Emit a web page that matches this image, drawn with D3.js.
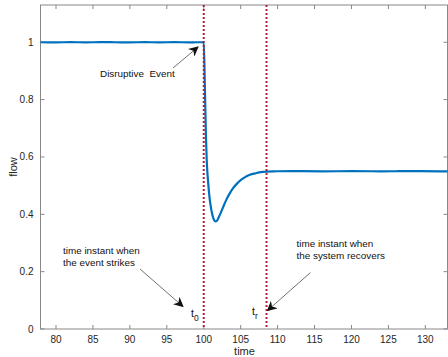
<!DOCTYPE html>
<html>
<head>
<meta charset="utf-8">
<script src="https://cdn.jsdelivr.net/npm/d3@7"></script>
<style>
  body { margin: 0; background: #fff; }
  text { font-family: "Liberation Sans", Arial, sans-serif; white-space: pre; }
</style>
</head>
<body>
<script>
// flow response around the disruptive event
var time = [70, 78, 80, 82, 84, 86, 88, 90, 92, 94, 96, 98, 99, 100,
  100.15, 100.3, 100.4, 100.6, 100.8, 101.0, 101.2, 101.4, 101.6, 101.8, 102.0,
  102.3, 102.7, 103.1, 103.5, 104.0, 104.5, 105, 105.5, 106, 106.5, 107, 107.5,
  108, 108.5, 109.5, 112, 116, 120, 124, 128, 132, 136];
var flow = [1.0, 1.0, 0.9995, 1.0005, 0.9995, 1.0005, 1.0, 0.9995, 1.0005, 0.9995, 1.0005, 0.9995, 1.0, 1.0,
  0.85, 0.67, 0.59, 0.51, 0.455, 0.42, 0.395, 0.38, 0.375, 0.378, 0.388,
  0.405, 0.43, 0.453, 0.472, 0.492, 0.507, 0.519, 0.528, 0.535, 0.54, 0.543, 0.546,
  0.548, 0.549, 0.55, 0.5505, 0.55, 0.5505, 0.55, 0.5505, 0.55, 0.55];

var xTicks = [80, 85, 90, 95, 100, 105, 110, 115, 120, 125, 130];
var yTicks = [0, 0.2, 0.4, 0.6, 0.8, 1];
var eventTimes = [100, 108.5];   // t0 and tr

var W = 448, H = 357;
var pLeft = 40.5, pRight = 447.5, pTop = 5, pBottom = 329;

var x = d3.scaleLinear().domain([77.9, 133]).range([pLeft, pRight]);
var y = d3.scaleLinear().domain([0, 1.13]).range([pBottom, pTop]);

var svg = d3.select("body").append("svg")
    .attr("width", W)
    .attr("height", H);

var defs = svg.append("defs");
defs.append("clipPath").attr("id", "clip")
  .append("rect")
    .attr("x", pLeft).attr("y", pTop)
    .attr("width", pRight - pLeft).attr("height", pBottom - pTop);
defs.append("marker")
    .attr("id", "head")
    .attr("viewBox", "0 0 10 10")
    .attr("refX", 9).attr("refY", 5)
    .attr("markerWidth", 10).attr("markerHeight", 10)
    .attr("markerUnits", "userSpaceOnUse")
    .attr("orient", "auto")
  .append("path")
    .attr("d", "M0,0 L10,5 L0,10 L3,5 Z")
    .attr("fill", "#111");

// axes box
var axisColor = "#888";
svg.append("rect")
    .attr("x", pLeft).attr("y", pTop)
    .attr("width", pRight - pLeft).attr("height", pBottom - pTop)
    .attr("fill", "none").attr("stroke", axisColor).attr("stroke-width", 1);

// x ticks (bottom and top, inward)
xTicks.forEach(function(t) {
  svg.append("line").attr("x1", x(t)).attr("x2", x(t))
    .attr("y1", pBottom).attr("y2", pBottom - 4)
    .attr("stroke", axisColor);
  svg.append("line").attr("x1", x(t)).attr("x2", x(t))
    .attr("y1", pTop).attr("y2", pTop + 4)
    .attr("stroke", axisColor);
  svg.append("text")
    .attr("x", x(t)).attr("y", pBottom + 14)
    .attr("text-anchor", "middle")
    .attr("font-size", 10).attr("fill", "#262626")
    .text(t);
});

yTicks.forEach(function(v) {
  svg.append("line").attr("x1", pLeft).attr("x2", pLeft + 4)
    .attr("y1", y(v)).attr("y2", y(v))
    .attr("stroke", axisColor);
  svg.append("line").attr("x1", pRight).attr("x2", pRight - 4)
    .attr("y1", y(v)).attr("y2", y(v))
    .attr("stroke", axisColor);
  svg.append("text")
    .attr("x", pLeft - 7).attr("y", y(v) + 3.5)
    .attr("text-anchor", "end")
    .attr("font-size", 10).attr("fill", "#262626")
    .text(v);
});

// axis labels
svg.append("text")
    .attr("x", (pLeft + pRight) / 2 + 0.5).attr("y", 355)
    .attr("text-anchor", "middle")
    .attr("font-size", 11).attr("fill", "#262626")
    .text("time");
svg.append("text")
    .attr("transform", "translate(17," + (pTop + pBottom) / 2 + ") rotate(-90)")
    .attr("text-anchor", "middle")
    .attr("font-size", 11).attr("fill", "#262626")
    .text("flow");

var plot = svg.append("g").attr("clip-path", "url(#clip)");

// the flow curve
var line = d3.line()
    .x(function(d) { return x(d[0]); })
    .y(function(d) { return y(d[1]); })
    .curve(d3.curveMonotoneX);

plot.append("path")
    .datum(d3.zip(time, flow))
    .attr("d", line)
    .attr("fill", "none")
    .attr("stroke", "#0072BD")
    .attr("stroke-width", 2.2);

// red dotted event lines
plot.selectAll(".event")
    .data(eventTimes)
  .enter().append("line")
    .attr("class", "event")
    .attr("x1", function(d) { return x(d); })
    .attr("x2", function(d) { return x(d); })
    .attr("y1", pTop).attr("y2", pBottom)
    .attr("stroke", "#B01E3A")
    .attr("stroke-width", 2)
    .attr("stroke-dasharray", "2,2");

// annotations
function arrow(x1, y1, x2, y2) {
  svg.append("line")
    .attr("x1", x1).attr("y1", y1).attr("x2", x2).attr("y2", y2)
    .attr("stroke", "#333").attr("stroke-width", 0.7)
    .attr("marker-end", "url(#head)");
}
function label(lines, tx, ty) {
  var t = svg.append("text")
    .attr("x", tx).attr("y", ty)
    .attr("font-size", 9.9).attr("fill", "#111");
  lines.forEach(function(s, i) {
    t.append("tspan").attr("x", tx).attr("dy", i ? 12 : 0).text(s);
  });
}

label(["Disruptive  Event"], 100, 76.5);
arrow(173, 68, 198, 47);

label(["time instant when", "the event strikes"], 63, 254);
arrow(140, 269, 183, 306.5);

label(["time instant when", "the system recovers"], 296.5, 247);
arrow(310.5, 272.5, 267.5, 310.5);

function sub(base, s, tx, ty) {
  var t = svg.append("text")
    .attr("x", tx).attr("y", ty)
    .attr("font-size", 10.5).attr("fill", "#111");
  t.append("tspan").text(base);
  t.append("tspan").attr("font-size", 8.5).attr("dy", 4).text(s);
}
sub("t", "0", 191, 316.5);
sub("t", "r", 252, 315);
</script>
</body>
</html>
